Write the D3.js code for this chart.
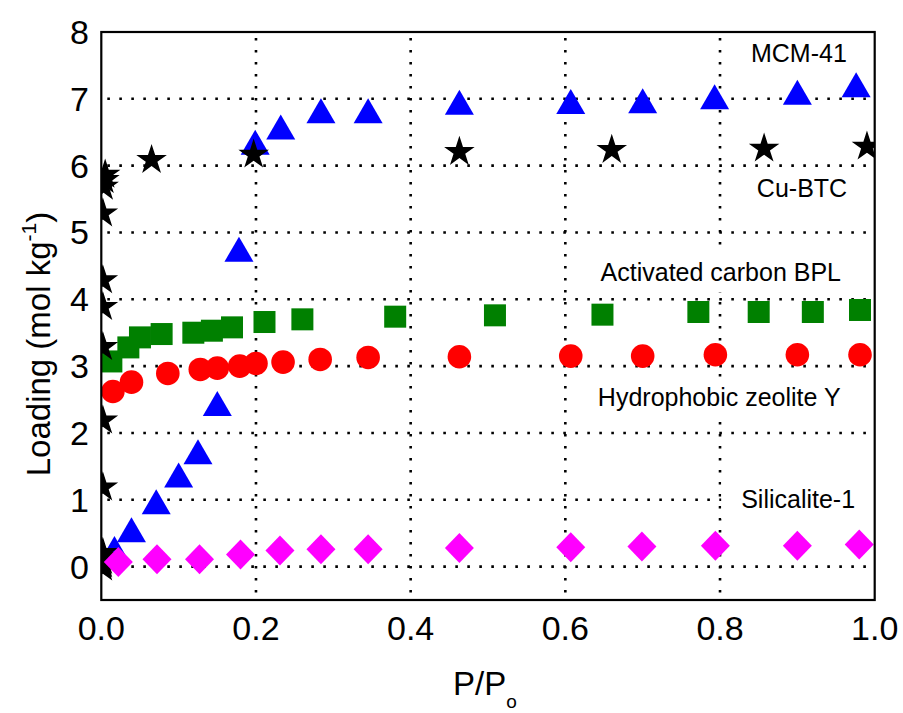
<!DOCTYPE html>
<html lang="en">
<head>
<meta charset="UTF-8">
<title>Loading vs P/Po</title>
<script src="https://d3js.org/d3.v7.min.js"></script>
<style>
 body {margin: 0; padding: 0; background: #fff;}
 svg {display: block; font-family: "Liberation Sans", Arial, sans-serif;}
 .grid line {stroke: #000; stroke-width: 2.6; stroke-dasharray: 2.6 9.4;}
 .tick-label {font-size: 34px; fill: #000;}
 .note {font-size: 25px; fill: #000; text-anchor: middle;}
</style>
</head>
<body>
<svg id="chart" width="903" height="713"></svg>
<script>
// MCM-41 (blue triangles)
const mcmX = [0.017, 0.039, 0.071, 0.100, 0.125, 0.150, 0.178, 0.199, 0.232, 0.284, 0.345, 0.463, 0.607, 0.700, 0.793, 0.900, 0.976];
const mcmY = [0.27, 0.55, 0.97, 1.37, 1.72, 2.44, 4.75, 6.35, 6.58, 6.82, 6.82, 6.95, 6.96, 6.97, 7.03, 7.10, 7.21];
// Cu-BTC (black stars)
const cuX = [0.002, 0.002, 0.002, 0.002, 0.002, 0.002, 0.002, 0.002, 0.002, 0.002, 0.002, 0.003, 0.004, 0.005, 0.065, 0.197, 0.463, 0.660, 0.857, 0.990];
const cuY = [0.00, 0.05, 0.10, 0.16, 0.22, 1.20, 2.20, 3.30, 3.90, 4.30, 5.30, 5.70, 5.80, 5.88, 6.10, 6.18, 6.22, 6.25, 6.27, 6.30];
// Activated carbon BPL (green squares)
const bplX = [0.013, 0.035, 0.050, 0.078, 0.119, 0.143, 0.169, 0.211, 0.260, 0.380, 0.509, 0.648, 0.772, 0.850, 0.920, 0.981];
const bplY = [3.07, 3.28, 3.43, 3.48, 3.50, 3.53, 3.58, 3.66, 3.70, 3.74, 3.76, 3.77, 3.81, 3.81, 3.81, 3.84];
// Hydrophobic zeolite Y (red circles)
const zyX = [0.015, 0.039, 0.086, 0.128, 0.150, 0.179, 0.200, 0.235, 0.283, 0.345, 0.463, 0.607, 0.700, 0.794, 0.900, 0.981];
const zyY = [2.62, 2.76, 2.89, 2.95, 2.97, 3.00, 3.04, 3.06, 3.10, 3.13, 3.14, 3.15, 3.15, 3.17, 3.17, 3.17];
// Silicalite-1 (magenta diamonds)
const silX = [0.022, 0.072, 0.127, 0.180, 0.231, 0.284, 0.345, 0.463, 0.607, 0.699, 0.794, 0.900, 0.980];
const silY = [0.07, 0.11, 0.11, 0.18, 0.24, 0.26, 0.26, 0.28, 0.29, 0.30, 0.31, 0.31, 0.33];

const xTicks = [0, 0.2, 0.4, 0.6, 0.8, 1.0];
const yTicks = [0, 1, 2, 3, 4, 5, 6, 7, 8];
const xGrid = [0.2, 0.4, 0.6, 0.8];
const yGrid = [0, 1, 2, 3, 4, 5, 6, 7];

const notes = [
  {text: 'MCM-41', x: 0.902, y: 7.55},
  {text: 'Cu-BTC', x: 0.906, y: 5.53},
  {text: 'Activated carbon BPL', x: 0.801, y: 4.27},
  {text: 'Hydrophobic zeolite Y', x: 0.799, y: 2.40},
  {text: 'Silicalite-1', x: 0.901, y: 0.88}
];

const svg = d3.select('#chart');
const pLeft = 101.3, pRight = 874.7, pTop = 32, pBottom = 600;

const x = d3.scaleLinear().domain([0, 1]).range([pLeft, pRight]);
const y = d3.scaleLinear().domain([-0.5, 8]).range([pBottom, pTop]);

// grid
const grid = svg.append('g').attr('class', 'grid');
grid.selectAll('.gx').data(xGrid).enter().append('line')
  .attr('x1', d => x(d)).attr('x2', d => x(d))
  .attr('y1', pTop + 6).attr('y2', pBottom);
grid.selectAll('.gy').data(yGrid).enter().append('line')
  .attr('x1', pLeft + 6).attr('x2', pRight)
  .attr('y1', d => y(d)).attr('y2', d => y(d));

// notes (white box hides the grid behind the text)
const noteG = svg.append('g');
notes.forEach(n => {
  const g = noteG.append('g');
  const bg = g.append('rect').attr('fill', '#fff');
  const t = g.append('text').attr('class', 'note')
    .attr('x', x(n.x)).attr('y', y(n.y)).text(n.text);
  const b = t.node().getBBox();
  bg.attr('x', b.x - 20).attr('y', b.y - 6)
    .attr('width', b.width + 40).attr('height', b.height + 12);
});

// tick labels
svg.append('g').selectAll('text').data(xTicks).enter().append('text')
  .attr('class', 'tick-label')
  .attr('x', d => x(d)).attr('y', 640)
  .attr('text-anchor', 'middle')
  .text(d => d.toFixed(1));
svg.append('g').selectAll('text').data(yTicks).enter().append('text')
  .attr('class', 'tick-label')
  .attr('x', 89).attr('y', d => y(d) + 12)
  .attr('text-anchor', 'end')
  .text(d => d);

// axis titles
const yt = svg.append('text')
  .attr('transform', 'translate(50,344) rotate(-90)')
  .attr('text-anchor', 'middle')
  .style('font-size', '33px');
yt.append('tspan').text('Loading (mol kg');
yt.append('tspan').attr('dy', -14).style('font-size', '21px').text('-1');
yt.append('tspan').attr('dy', 14).text(')');

const xt = svg.append('text')
  .attr('x', 453).attr('y', 695)
  .style('font-size', '33px');
xt.append('tspan').text('P/P');
xt.append('tspan').attr('dy', 13).style('font-size', '19px').text('o');

// clip
svg.append('clipPath').attr('id', 'clip')
  .append('rect').attr('x', pLeft).attr('y', pTop)
  .attr('width', pRight - pLeft).attr('height', pBottom - pTop);
const plot = svg.append('g').attr('clip-path', 'url(#clip)');

function pts(xs, ys) { return xs.map((v, i) => ({x: v, y: ys[i]})); }

// triangles
plot.append('g').selectAll('path').data(pts(mcmX, mcmY)).enter().append('path')
  .attr('d', 'M0,-12.5L14.5,12.5L-14.5,12.5Z')
  .attr('fill', '#0000ff')
  .attr('transform', d => `translate(${x(d.x)},${y(d.y)})`);

// squares
plot.append('g').selectAll('rect').data(pts(bplX, bplY)).enter().append('rect')
  .attr('x', d => x(d.x) - 11).attr('y', d => y(d.y) - 11)
  .attr('width', 22).attr('height', 22)
  .attr('fill', '#008000');

// circles
plot.append('g').selectAll('circle').data(pts(zyX, zyY)).enter().append('circle')
  .attr('cx', d => x(d.x)).attr('cy', d => y(d.y)).attr('r', 11.8)
  .attr('fill', '#ff0000');

// stars
const star = d3.symbol().type(d3.symbolStar).size(290);
plot.append('g').selectAll('path').data(pts(cuX, cuY)).enter().append('path')
  .attr('d', star)
  .attr('fill', '#000')
  .attr('transform', d => `translate(${x(d.x)},${y(d.y) + 1})`);

// diamonds
plot.append('g').selectAll('path').data(pts(silX, silY)).enter().append('path')
  .attr('d', 'M0,-15L14.5,0L0,15L-14.5,0Z')
  .attr('fill', '#ff00ff')
  .attr('transform', d => `translate(${x(d.x)},${y(d.y)})`);

// frame
svg.append('rect')
  .attr('x', pLeft).attr('y', pTop)
  .attr('width', pRight - pLeft).attr('height', pBottom - pTop)
  .attr('fill', 'none').attr('stroke', '#000').attr('stroke-width', 2.2);
</script>
</body>
</html>
